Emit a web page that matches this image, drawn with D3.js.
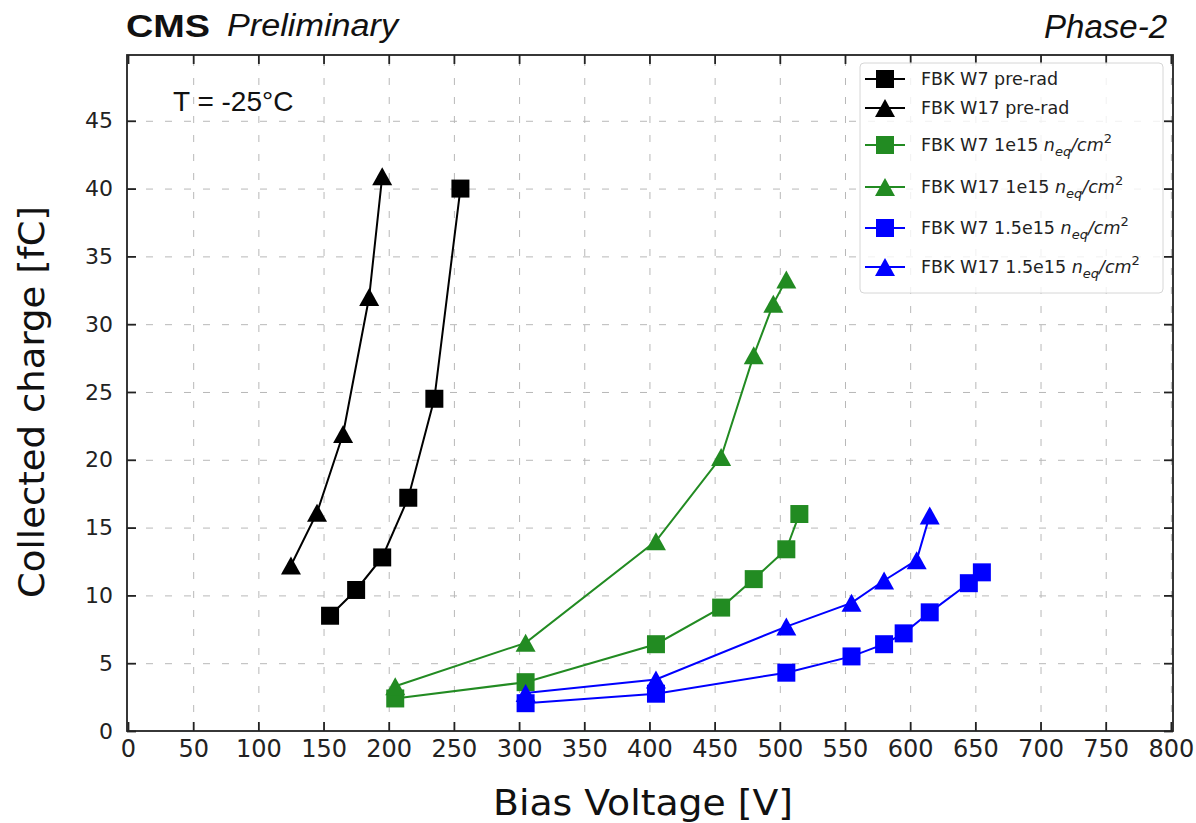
<!DOCTYPE html>
<html>
<head>
    <meta charset="utf-8">
    <style>
        body {
            margin: 0;
            background: white;
        }

        svg {
            display: block;
            font-family: 'DejaVu Sans', sans-serif;
        }

        .grid line {
            stroke: #b8b8b8;
            stroke-width: 1;
            stroke-dasharray: 7, 12;
        }

        .grid .domain {
            display: none;
        }

        .axis .domain {
            display: none;
        }

        .axis .tick line {
            stroke: #222;
            stroke-width: 1.8;
        }

        .axis .tick text {
            font-size: 22px;
            fill: #222;
            font-family: 'DejaVu Sans', sans-serif;
        }

        .x.axis .tick text {
            font-size: 24px;
        }

        .label {
            font-size: 36px;
            fill: #111;
        }

        .legend text {
            font-size: 17.5px;
            fill: #222;
        }
    </style>
</head>

<body>
    <svg width="1196" height="823"></svg>
</body>

<script src="https://d3js.org/d3.v7.min.js"></script>

<script>
    // --- data ---
    let seriesNames = ["FBK W7 pre-rad", "FBK W17 pre-rad", "FBK W7 1e15", "FBK W17 1e15", "FBK W7 1.5e15", "FBK W17 1.5e15"];
    let seriesColors = ["#000000", "#000000", "#228b22", "#228b22", "#0000ff", "#0000ff"];
    let seriesShapes = ["square", "triangle", "square", "triangle", "square", "triangle"];

    let voltW7pre = [155, 175, 195, 215, 235, 255];
    let chargeW7pre = [8.5, 10.4, 12.8, 17.2, 24.5, 40.0];

    let voltW17pre = [125, 145, 165, 185, 195];
    let chargeW17pre = [12.2, 16.1, 21.9, 32.0, 40.9];

    let voltW7_1e15 = [205, 305, 405, 455, 480, 505, 515];
    let chargeW7_1e15 = [2.4, 3.6, 6.4, 9.1, 11.2, 13.4, 16.0];

    let voltW17_1e15 = [205, 305, 405, 455, 480, 495, 505];
    let chargeW17_1e15 = [3.3, 6.5, 14.0, 20.2, 27.7, 31.5, 33.3];

    let voltW7_15e15 = [305, 405, 505, 555, 580, 595, 615, 645, 655];
    let chargeW7_15e15 = [2.05, 2.75, 4.3, 5.5, 6.4, 7.2, 8.75, 10.9, 11.7];

    let voltW17_15e15 = [305, 405, 505, 555, 580, 605, 615];
    let chargeW17_15e15 = [2.8, 3.8, 7.7, 9.45, 11.1, 12.6, 15.9];

    let xTicks = d3.range(0, 801, 50);
    let yTicks = d3.range(0, 46, 5);

    let allVolts = [voltW7pre, voltW17pre, voltW7_1e15, voltW17_1e15, voltW7_15e15, voltW17_15e15];
    let allCharges = [chargeW7pre, chargeW17pre, chargeW7_1e15, chargeW17_1e15, chargeW7_15e15, chargeW17_15e15];

    let series = seriesNames.map(function (name, i) {
        return {
            name: name,
            color: seriesColors[i],
            shape: seriesShapes[i],
            points: allVolts[i].map(function (v, j) { return { v: v, q: allCharges[i][j] } })
        }
    })

    // --- layout ---
    let margin = { top: 55, right: 23, bottom: 92, left: 127 };
    let width = 1196;
    let height = 823;

    let svg = d3.select("svg");

    let x = d3.scaleLinear()
        .domain([0, 802])
        .range([margin.left + 1, width - margin.right + 0.5]);

    let y = d3.scaleLinear()
        .domain([0, 49.85])
        .range([height - margin.bottom, margin.top]);

    let plotW = width - margin.right - margin.left;
    let plotH = height - margin.bottom - margin.top;

    // grid
    svg.append("g")
        .attr("class", "grid")
        .attr("transform", `translate(0,${height - margin.bottom})`)
        .call(d3.axisBottom(x).tickValues(xTicks.slice(1)).tickSize(-plotH).tickFormat(""));

    svg.append("g")
        .attr("class", "grid")
        .attr("transform", `translate(${margin.left},0)`)
        .call(d3.axisLeft(y).tickValues(yTicks.slice(1)).tickSize(-plotW).tickFormat(""));

    // axes, ticks pointing inward
    svg.append("g")
        .attr("class", "x axis")
        .attr("transform", `translate(0,${height - margin.bottom})`)
        .call(d3.axisBottom(x).tickValues(xTicks).tickSize(-9).tickSizeOuter(0).tickPadding(9));

    svg.append("g")
        .attr("class", "axis")
        .attr("transform", `translate(0,${margin.top})`)
        .call(d3.axisTop(x).tickValues(xTicks).tickSize(-9).tickSizeOuter(0).tickFormat(""));

    svg.append("g")
        .attr("class", "y axis")
        .attr("transform", `translate(${margin.left},0)`)
        .call(d3.axisLeft(y).tickValues(yTicks).tickSize(-9).tickSizeOuter(0).tickPadding(14));

    svg.append("g")
        .attr("class", "axis")
        .attr("transform", `translate(${width - margin.right},0)`)
        .call(d3.axisRight(y).tickValues(yTicks).tickSize(-9).tickSizeOuter(0).tickFormat(""));

    // frame
    svg.append("rect")
        .attr("x", margin.left)
        .attr("y", margin.top)
        .attr("width", plotW)
        .attr("height", plotH)
        .style("fill", "none")
        .style("stroke", "#222")
        .style("stroke-width", 1.8);

    // markers
    function markerPath(shape) {
        if (shape == "square") {
            return "M-9,-9H9V9H-9Z";
        }
        return "M0,-9L10,9L-10,9Z";
    }

    let line = d3.line()
        .x(function (d) { return x(d.v) })
        .y(function (d) { return y(d.q) });

    series.forEach(function (s) {
        let g = svg.append("g");
        g.append("path")
            .datum(s.points)
            .attr("d", line)
            .style("fill", "none")
            .style("stroke", s.color)
            .style("stroke-width", 2);

        g.selectAll(".pt")
            .data(s.points)
            .join("path")
            .attr("class", "pt")
            .attr("transform", function (d) { return `translate(${x(d.v)},${y(d.q)})` })
            .attr("d", markerPath(s.shape))
            .style("fill", s.color);
    })

    // axis labels
    svg.append("text")
        .attr("class", "label")
        .attr("text-anchor", "middle")
        .attr("x", 643)
        .attr("y", 815)
        .attr("textLength", 300)
        .attr("lengthAdjust", "spacingAndGlyphs")
        .text("Bias Voltage [V]");

    svg.append("text")
        .attr("class", "label")
        .attr("text-anchor", "middle")
        .attr("transform", "translate(44,402) rotate(-90)")
        .attr("textLength", 392)
        .attr("lengthAdjust", "spacingAndGlyphs")
        .text("Collected charge [fC]");

    // header
    svg.append("text")
        .attr("x", 126)
        .attr("y", 37)
        .attr("textLength", 84)
        .attr("lengthAdjust", "spacingAndGlyphs")
        .style("font-family", "'Liberation Sans', Arial, sans-serif")
        .style("font-weight", "bold")
        .style("font-size", "31px")
        .style("fill", "#111")
        .text("CMS");

    svg.append("text")
        .attr("x", 227)
        .attr("y", 36)
        .attr("textLength", 171)
        .attr("lengthAdjust", "spacingAndGlyphs")
        .style("font-family", "'Liberation Sans', Arial, sans-serif")
        .style("font-style", "italic")
        .style("font-size", "31px")
        .style("fill", "#111")
        .text("Preliminary");

    svg.append("text")
        .attr("x", 1167)
        .attr("y", 38)
        .attr("text-anchor", "end")
        .style("font-family", "'Liberation Sans', Arial, sans-serif")
        .style("font-style", "italic")
        .style("font-size", "33px")
        .style("fill", "#111")
        .text("Phase-2");

    svg.append("text")
        .attr("x", 173)
        .attr("y", 111)
        .style("font-family", "'Liberation Sans', Arial, sans-serif")
        .style("font-size", "28px")
        .style("fill", "#111")
        .text("T = -25°C");

    // legend
    let legend = svg.append("g").attr("class", "legend");

    legend.append("rect")
        .attr("x", 860)
        .attr("y", 63)
        .attr("width", 303)
        .attr("height", 230)
        .attr("rx", 4)
        .style("fill", "white")
        .style("fill-opacity", 0.8)
        .style("stroke", "#d6d6d6")
        .style("stroke-width", 1);

    let rowY = [79, 108, 145, 187, 228, 267];

    series.forEach(function (s, i) {
        let row = legend.append("g").attr("transform", `translate(885,${rowY[i]})`);
        row.append("line")
            .attr("x1", -20)
            .attr("x2", 20)
            .style("stroke", s.color)
            .style("stroke-width", 2);
        row.append("path")
            .attr("d", markerPath(s.shape))
            .style("fill", s.color);

        let t = row.append("text")
            .attr("x", 36)
            .attr("y", 6);

        if (i < 2) {
            t.text(s.name);
        } else {
            t.append("tspan").text(s.name + " ");
            t.append("tspan").style("font-style", "italic").text("n");
            t.append("tspan").style("font-style", "italic").style("font-size", "13px").attr("dy", 5).text("eq");
            t.append("tspan").style("font-style", "italic").attr("dy", -5).text("/cm");
            t.append("tspan").style("font-size", "13px").attr("dy", -8).text("2");
        }
    })
</script>

</html>
